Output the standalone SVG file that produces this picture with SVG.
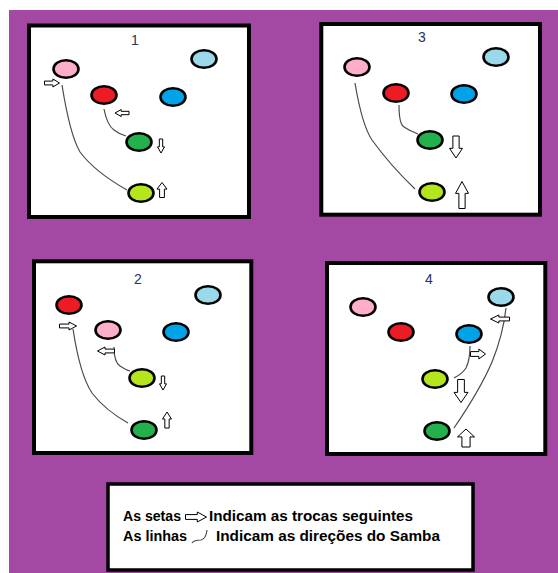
<svg xmlns="http://www.w3.org/2000/svg" xmlns:xlink="http://www.w3.org/1999/xlink" width="558" height="573" viewBox="0 0 558 573">
<style>
.bg{fill:#A349A4}
.panel{fill:#fff;stroke:#000;stroke-width:4}
.leg{fill:#fff;stroke:#000;stroke-width:3.5}
.d{stroke:#000;stroke-width:2.6}
.pk{fill:#FFAEC9}.rd{fill:#ED1C24}.lb{fill:#99D9EA}.bl{fill:#00A2E8}.gr{fill:#22B14C}.lm{fill:#B5E61D}
.num{font-family:"Liberation Sans",Arial,sans-serif;font-size:14px;fill:#263260;text-anchor:middle}
.lt{font-family:"Liberation Sans",Arial,sans-serif;font-size:14px;font-weight:bold;fill:#000}
.ln{fill:none;stroke:#4a4a4a;stroke-width:1.2}
</style>
<defs>
<path id="arr" d="M-0.5,-0.24 H0.06 V-0.5 L0.5,0 L0.06,0.5 V0.24 H-0.5 Z" fill="#fff" stroke="#000" stroke-width="1" vector-effect="non-scaling-stroke"/>
</defs>
<rect class="bg" x="9" y="10" width="549" height="563"/>

<g id="panel1">
<rect class="panel" x="29" y="25.5" width="220" height="191.5"/>
<text class="num" x="135" y="45">1</text>
<g id="p1-pink"><ellipse class="d pk" cx="66" cy="69" rx="12.5" ry="8.8"/></g>
<g id="p1-lightblue"><ellipse class="d lb" cx="204" cy="59" rx="12.5" ry="8.8"/></g>
<g id="p1-red"><ellipse class="d rd" cx="104" cy="95" rx="12.5" ry="8.8"/></g>
<g id="p1-blue"><ellipse class="d bl" cx="173" cy="97" rx="12.5" ry="8.8"/></g>
<g id="p1-green"><ellipse class="d gr" cx="139" cy="142" rx="12.5" ry="8.8"/></g>
<g id="p1-lime"><ellipse class="d lm" cx="141" cy="193" rx="12.5" ry="8.8"/></g>
</g>

<g id="panel3">
<rect class="panel" x="321.3" y="24" width="218.7" height="190.7"/>
<text class="num" x="422" y="42">3</text>
<g id="p3-pink"><ellipse class="d pk" cx="357" cy="67" rx="12.5" ry="8.8"/></g>
<g id="p3-lightblue"><ellipse class="d lb" cx="496" cy="57" rx="12.5" ry="8.8"/></g>
<g id="p3-red"><ellipse class="d rd" cx="396" cy="93" rx="12.5" ry="8.8"/></g>
<g id="p3-blue"><ellipse class="d bl" cx="464" cy="94" rx="12.5" ry="8.8"/></g>
<g id="p3-green"><ellipse class="d gr" cx="430" cy="140" rx="12.5" ry="8.8"/></g>
<g id="p3-lime"><ellipse class="d lm" cx="432" cy="192" rx="12.5" ry="8.8"/></g>
</g>

<g id="panel2">
<rect class="panel" x="34" y="261.3" width="217.3" height="191.7"/>
<text class="num" x="138" y="284">2</text>
<g id="p2-red"><ellipse class="d rd" cx="69" cy="305" rx="12.5" ry="8.8"/></g>
<g id="p2-lightblue"><ellipse class="d lb" cx="208" cy="295" rx="12.5" ry="8.8"/></g>
<g id="p2-pink"><ellipse class="d pk" cx="108" cy="330" rx="12.5" ry="8.8"/></g>
<g id="p2-blue"><ellipse class="d bl" cx="176" cy="332" rx="12.5" ry="8.8"/></g>
<g id="p2-lime"><ellipse class="d lm" cx="142" cy="378" rx="12.5" ry="8.8"/></g>
<g id="p2-green"><ellipse class="d gr" cx="144" cy="430" rx="12.5" ry="8.8"/></g>
</g>

<g id="panel4">
<rect class="panel" x="327" y="263" width="218.3" height="191"/>
<text class="num" x="429" y="284">4</text>
<g id="p4-pink"><ellipse class="d pk" cx="363" cy="307" rx="12.5" ry="8.8"/></g>
<g id="p4-red"><ellipse class="d rd" cx="401" cy="332" rx="12.5" ry="8.8"/></g>
<g id="p4-blue"><ellipse class="d bl" cx="469" cy="334" rx="12.5" ry="8.8"/></g>
<g id="p4-lightblue"><ellipse class="d lb" cx="501" cy="297" rx="12.5" ry="8.8"/></g>
<g id="p4-lime"><ellipse class="d lm" cx="435" cy="379" rx="12.5" ry="8.8"/></g>
<g id="p4-green"><ellipse class="d gr" cx="437" cy="431" rx="12.5" ry="8.8"/></g>
</g>

<g id="connectors">
<path class="ln" d="M62,85 Q70,135 80,152 Q95,172 127,190"/>
<path class="ln" d="M104,109 Q107,125 114,130 Q119,134 126,136"/>
<path class="ln" d="M355,83 Q362,125 372,140 Q390,165 415,189"/>
<path class="ln" d="M399,105 Q399,124 404,127 Q410,131 418,134"/>
<path class="ln" d="M73,329 Q80,375 92,393 Q105,410 128,423"/>
<path class="ln" d="M114,347 Q114,362 120,366 Q126,370 130,371"/>
<path class="ln" d="M470,346 Q470,360 466,368 Q462,374 454,378"/>
<path class="ln" d="M454,428 Q480,390 492,362 Q503,335 506,308"/>
</g>

<g id="arrows">
<use xlink:href="#arr" transform="translate(52,83) scale(15,8)"/>
<use xlink:href="#arr" transform="translate(122,113) rotate(180) scale(14,7)"/>
<use xlink:href="#arr" transform="translate(161,146) rotate(90) scale(14,7)"/>
<use xlink:href="#arr" transform="translate(162,190) rotate(-90) scale(15,10)"/>
<use xlink:href="#arr" transform="translate(456,147) rotate(90) scale(22,13)"/>
<use xlink:href="#arr" transform="translate(462,195) rotate(-90) scale(27,13)"/>
<use xlink:href="#arr" transform="translate(68,326) scale(17,8)"/>
<use xlink:href="#arr" transform="translate(106,351) rotate(180) scale(17,8)"/>
<use xlink:href="#arr" transform="translate(163,383) rotate(90) scale(14,7)"/>
<use xlink:href="#arr" transform="translate(167,420) rotate(-90) scale(16,9)"/>
<use xlink:href="#arr" transform="translate(500,319) rotate(180) scale(19,8)"/>
<use xlink:href="#arr" transform="translate(478,354) scale(15,10)"/>
<use xlink:href="#arr" transform="translate(461,391) rotate(90) scale(23,14)"/>
<use xlink:href="#arr" transform="translate(466,438) rotate(-90) scale(18,17)"/>
</g>

<g id="legend">
<rect class="leg" x="108" y="484" width="365" height="86"/>
<text class="lt" x="123" y="521" textLength="58" lengthAdjust="spacingAndGlyphs">As setas</text>
<use xlink:href="#arr" transform="translate(196,517) scale(21,10)"/>
<text class="lt" x="209" y="521" textLength="204" lengthAdjust="spacingAndGlyphs">Indicam as trocas seguintes</text>
<text class="lt" x="123" y="541" textLength="64" lengthAdjust="spacingAndGlyphs">As linhas</text>
<path class="ln" d="M192,543 Q194,540 201,540 Q206,539 207,530"/>
<text class="lt" x="216" y="541" textLength="224" lengthAdjust="spacingAndGlyphs">Indicam as direções do Samba</text>
</g>
</svg>
